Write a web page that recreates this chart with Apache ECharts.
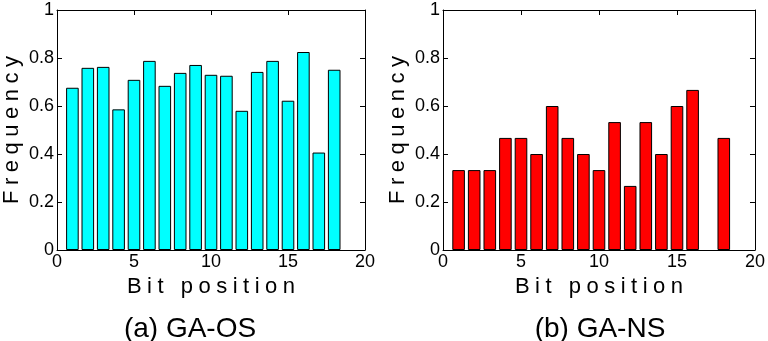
<!DOCTYPE html>
<html>
<head>
<meta charset="utf-8">
<script src="https://cdn.jsdelivr.net/npm/echarts@6/dist/echarts.min.js"></script>
<style>
  html, body { margin: 0; padding: 0; background: #fff; }
  #chart { width: 768px; height: 341px; }
</style>
</head>
<body>
<div id="chart"></div>
<script>
// bit positions (x) and measured frequencies
var bitPositions = [1, 2, 3, 4, 5, 6, 7, 8, 9, 10, 11, 12, 13, 14, 15, 16, 17, 18];
var osFreq = [0.676, 0.759, 0.763, 0.586, 0.709, 0.788, 0.684, 0.738, 0.771, 0.730, 0.726, 0.580, 0.742, 0.788, 0.622, 0.825, 0.406, 0.751];
var nsFreq = [0.333, 0.333, 0.333, 0.467, 0.467, 0.400, 0.600, 0.467, 0.400, 0.333, 0.533, 0.267, 0.533, 0.400, 0.600, 0.667, null, 0.467];
var xTicks = [0, 5, 10, 15, 20];
var yTicks = [0, 0.2, 0.4, 0.6, 0.8, 1];
var panelTitles = ['(a) GA-OS', '(b) GA-NS'];

var FONT = 'Liberation Sans, Arial, Helvetica, sans-serif';
var chart = echarts.init(document.getElementById('chart'));

// spread letters like the original axis labels
function spaced(s) {
  return s.split('').join('\u2005');
}

var grids = [
  {left: 50, top: 10, width: 315, height: 240},
  {left: 443, top: 10, width: 314, height: 240}
];

var lineBlack = {show: true, onZero: false, lineStyle: {color: '#000', width: 1}};
var tickIn = {show: true, inside: true, length: 5, lineStyle: {color: '#000'}};

var xAxes = [], yAxes = [], series = [];
grids.forEach(function (g, i) {
  // bottom axis with labels
  xAxes.push({
    gridIndex: i, type: 'value', position: 'bottom',
    min: xTicks[0], max: xTicks[xTicks.length - 1], interval: 5,
    axisLine: lineBlack, axisTick: tickIn,
    axisLabel: {color: '#000', fontFamily: FONT, fontSize: 18, margin: 3},
    splitLine: {show: false},
    name: spaced('Bit position'), nameLocation: 'middle', nameGap: 23,
    nameTextStyle: {color: '#000', fontFamily: FONT, fontSize: 22}
  });
  // top box edge
  xAxes.push({
    gridIndex: i, type: 'value', position: 'top',
    min: xTicks[0], max: xTicks[xTicks.length - 1], interval: 5,
    axisLine: lineBlack, axisTick: tickIn,
    axisLabel: {show: false}, splitLine: {show: false}
  });
  // left axis with labels
  yAxes.push({
    gridIndex: i, type: 'value', position: 'left',
    min: 0, max: 1, interval: 0.2,
    axisLine: lineBlack, axisTick: tickIn,
    axisLabel: {
      color: '#000', fontFamily: FONT, fontSize: 18, margin: 3,
      formatter: function (v) { return String(Math.round(v * 10) / 10); }
    },
    splitLine: {show: false},
    name: spaced('Frequency'), nameLocation: 'middle', nameGap: 34,
    nameTextStyle: {color: '#000', fontFamily: FONT, fontSize: 22}
  });
  // right box edge
  yAxes.push({
    gridIndex: i, type: 'value', position: 'right',
    min: 0, max: 1, interval: 0.2,
    axisLine: lineBlack, axisTick: tickIn,
    axisLabel: {show: false}, splitLine: {show: false}
  });
});

function pairs(vals) {
  return bitPositions.map(function (x, k) {
    return vals[k] == null ? [x, '-'] : [x, vals[k]];
  });
}

series.push({
  type: 'bar', xAxisIndex: 0, yAxisIndex: 0,
  data: pairs(osFreq), barWidth: 12.6,
  itemStyle: {color: '#00ffff', borderColor: '#000', borderWidth: 1},
  silent: true, animation: false
});
series.push({
  type: 'bar', xAxisIndex: 2, yAxisIndex: 2,
  data: pairs(nsFreq), barWidth: 12.6,
  itemStyle: {color: '#ff0000', borderColor: '#000', borderWidth: 1},
  silent: true, animation: false
});

chart.setOption({
  backgroundColor: '#fff',
  animation: false,
  grid: grids,
  xAxis: xAxes,
  yAxis: yAxes,
  series: series,
  title: [
    {text: panelTitles[0], left: 185, top: 310, textAlign: 'center',
     textStyle: {fontFamily: FONT, fontSize: 28, fontWeight: 'normal', color: '#000'}},
    {text: panelTitles[1], left: 595, top: 310, textAlign: 'center',
     textStyle: {fontFamily: FONT, fontSize: 28, fontWeight: 'normal', color: '#000'}}
  ]
});
</script>
</body>
</html>
